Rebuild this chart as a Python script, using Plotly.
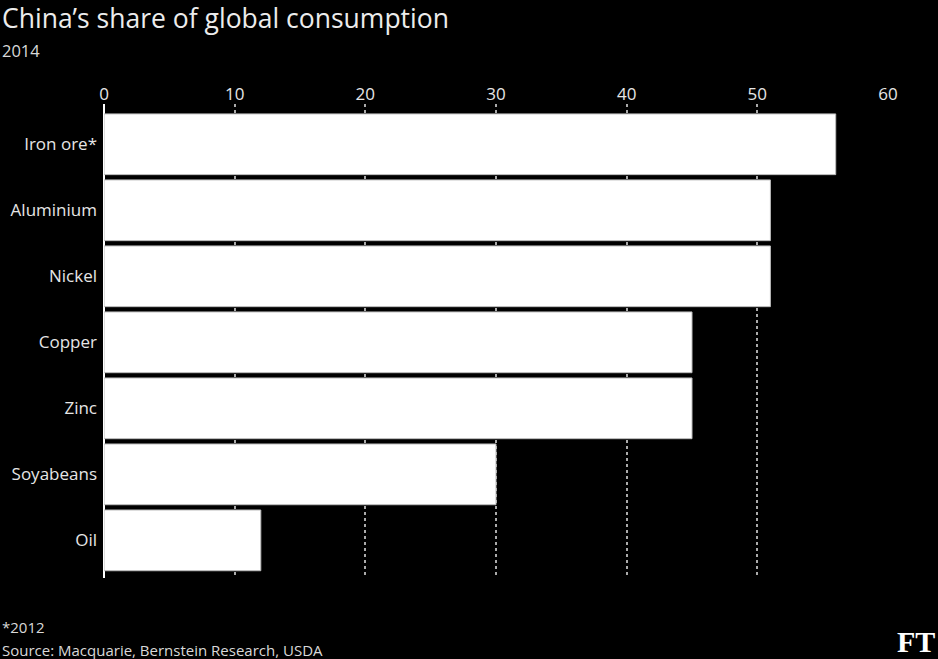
import plotly.graph_objects as go

categories = ["Iron ore*", "Aluminium", "Nickel", "Copper", "Zinc", "Soyabeans", "Oil"]
values = [56, 51, 51, 45, 45, 30, 12]
x_ticks = [0, 10, 20, 30, 40, 50, 60]

FONT = "'Open Sans', Lato, sans-serif"
W, H = 938, 659
L, R, T, B = 104, 50, 104, 81
PW, PH = W - L - R, H - T - B


def px(x):
    return (x - L) / PW


def py(y):
    return 1 - (y - T) / PH


fig = go.Figure(go.Bar(
    x=values, y=categories, orientation="h",
    marker=dict(color="#ffffff", line=dict(color="#bbbbbb", width=1)),
    width=0.92, hoverinfo="x+y",
))

fig.update_layout(
    width=W, height=H,
    paper_bgcolor="#000000", plot_bgcolor="#000000",
    margin=dict(l=L, r=R, t=T, b=B),
    showlegend=False,
    font=dict(family=FONT, color="#e6e6e6", size=17),
    xaxis=dict(
        side="top", range=[0, 60], tickvals=x_ticks,
        showgrid=True, gridcolor="#aaaaaa", griddash="dot", gridwidth=1.5,
        zeroline=True, zerolinecolor="#ffffff", zerolinewidth=2,
        showline=False, ticks="", tickfont=dict(size=17, color="#e6e6e6"),
        ticklabelstandoff=0,
    ),
    yaxis=dict(
        range=[6.57, -0.61], showgrid=False, zeroline=False, ticks="",
        tickfont=dict(size=17, color="#e6e6e6"), ticklabelstandoff=6,
    ),
)


def note(text, x, y, size, color="#d9d9d9", family=FONT, xanchor="left"):
    fig.add_annotation(text=text, x=px(x), y=py(y), xref="paper", yref="paper",
                       xanchor=xanchor, yanchor="middle", showarrow=False,
                       font=dict(size=size, color=color, family=family))


note("China’s share of global consumption", 0, 18, 26.5, "#ececec")
note("2014", 0, 50, 16.5)
note("*2012", 0, 627, 15)
note("Source: Macquarie, Bernstein Research, USDA", 0, 650, 15)
note("<b>FT</b>", 937, 641, 30, "#ffffff",
     "'Liberation Serif', 'DejaVu Serif', serif", xanchor="right")

fig.write_html("out.html", config={"displayModeBar": False},
               post_script="document.body.style.margin='0';document.body.style.background='#000';")
